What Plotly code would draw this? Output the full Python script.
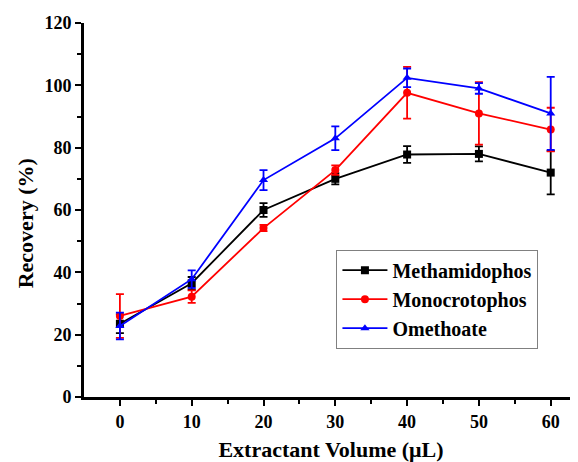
import plotly.graph_objects as go

volume = [0, 10, 20, 30, 40, 50, 60]
metha = [23.5, 36.5, 60.0, 70.0, 77.8, 78.0, 72.0]
metha_err = [3.0, 2.0, 2.2, 1.8, 2.7, 2.4, 7.0]
mono = [26.0, 32.2, 54.2, 72.8, 97.6, 91.0, 85.8]
mono_err = [7.0, 2.0, 1.0, 1.5, 8.3, 10.0, 7.0]
ome = [22.8, 37.8, 69.6, 83.0, 102.4, 99.0, 91.0]
ome_err = [4.3, 2.8, 3.2, 3.8, 3.0, 1.7, 11.7]

series = [
    ("Methamidophos", metha, metha_err, "black", "square"),
    ("Monocrotophos", mono, mono_err, "#ff0000", "circle"),
    ("Omethoate", ome, ome_err, "#0000ff", "triangle-up"),
]

fig = go.Figure()
for name, y, e, c, sym in series:
    fig.add_trace(go.Scatter(
        x=volume, y=y, name=name, mode="lines+markers",
        line=dict(color=c, width=1.8),
        marker=dict(symbol=sym, size=8, color=c),
        error_y=dict(type="data", array=e, visible=True, color=c, thickness=1.8, width=4),
    ))

font_fam = "Liberation Serif, Times New Roman, serif"
fig.update_layout(
    width=570, height=454,
    margin=dict(l=76, r=0, t=15, b=65),
    plot_bgcolor="white", paper_bgcolor="white",
    font=dict(family=font_fam, size=18, color="black", weight="bold"),
    showlegend=True,
    legend=dict(
        x=0.511, y=0.394, xanchor="left", yanchor="top",
        bordercolor="#808080", borderwidth=1, bgcolor="white",
        font=dict(family=font_fam, size=20, color="black", weight="bold"),
        tracegroupgap=0, itemwidth=45,
    ),
    xaxis=dict(
        range=[-5, 63.8], tickvals=[0, 10, 20, 30, 40, 50, 60],
        showgrid=False, zeroline=False, showline=True, linecolor="black", linewidth=3,
        ticks="outside", ticklen=6, tickwidth=2, tickcolor="black",
        minor=dict(tickvals=[5, 15, 25, 35, 45, 55], ticks="outside", ticklen=4, tickwidth=2, tickcolor="black"),
        tickfont=dict(size=18, family=font_fam, weight="bold"),
        title=dict(text="Extractant Volume (μL)", font=dict(size=22, family=font_fam, weight="bold"), standoff=13),
    ),
    yaxis=dict(
        range=[0, 120], tickvals=[0, 20, 40, 60, 80, 100, 120],
        showgrid=False, zeroline=False, showline=True, linecolor="black", linewidth=3,
        ticks="outside", ticklen=6, tickwidth=2, tickcolor="black",
        minor=dict(tickvals=[10, 30, 50, 70, 90, 110], ticks="outside", ticklen=4, tickwidth=2, tickcolor="black"),
        tickfont=dict(size=18, family=font_fam, weight="bold"),
    ),
    annotations=[dict(
        text="Recovery (%)", textangle=-90, showarrow=False,
        xref="paper", yref="paper", x=-0.119, y=0.465, xanchor="center", yanchor="middle",
        font=dict(size=22, family=font_fam, weight="bold", color="black"),
    )],
)

fig.write_html("out.html")
